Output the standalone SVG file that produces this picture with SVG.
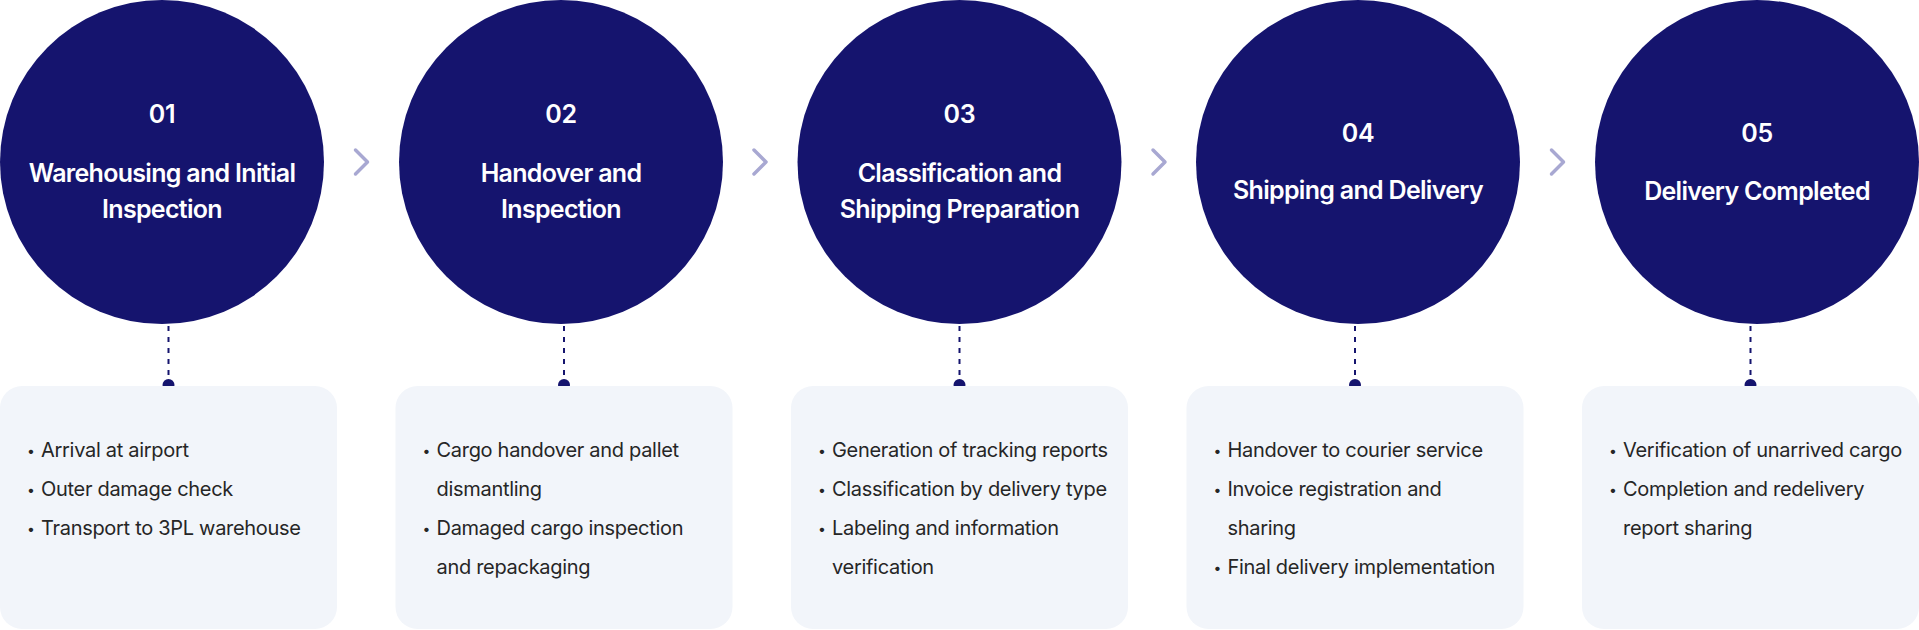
<svg xmlns="http://www.w3.org/2000/svg" width="1919" height="630" viewBox="0 0 1919 630">
<style>
.circ{fill:#15146e}
.num{font-family:Inter,"Noto Sans",sans-serif;font-weight:600;font-size:25px;fill:#ffffff;text-anchor:middle;letter-spacing:-0.3px}
.ttl{font-family:Inter,"Noto Sans",sans-serif;font-weight:600;font-size:25px;fill:#ffffff;text-anchor:middle;letter-spacing:-0.7px}
.box{fill:#f2f5fa}
.item{font-family:Inter,"Noto Sans",sans-serif;font-weight:400;font-size:20px;fill:#262626;letter-spacing:-0.3px}
.bul{font-family:Inter,"Noto Sans",sans-serif;font-size:14px;fill:#262626}
.dash{stroke:#15146e;stroke-width:2;stroke-dasharray:5 6;fill:none}
.dot{fill:#15146e}
.chev{stroke:#a8a8d2;stroke-width:3.5;fill:none;stroke-linecap:round;stroke-linejoin:round}
</style>
<rect width="1919" height="630" fill="#ffffff"/>

<g id="connectors">
<path class="chev" d="M355.5 150 L367.5 162 L355.5 174"/>
<path class="chev" d="M754 150 L766 162 L754 174"/>
<path class="chev" d="M1153 150 L1165 162 L1153 174"/>
<path class="chev" d="M1551.5 150 L1563.5 162 L1551.5 174"/>
<line class="dash" x1="168.5" y1="326" x2="168.5" y2="383"/>
<circle class="dot" cx="168.5" cy="385" r="6"/>
<line class="dash" x1="564" y1="326" x2="564" y2="383"/>
<circle class="dot" cx="564" cy="385" r="6"/>
<line class="dash" x1="959.5" y1="326" x2="959.5" y2="383"/>
<circle class="dot" cx="959.5" cy="385" r="6"/>
<line class="dash" x1="1355" y1="326" x2="1355" y2="383"/>
<circle class="dot" cx="1355" cy="385" r="6"/>
<line class="dash" x1="1750.5" y1="326" x2="1750.5" y2="383"/>
<circle class="dot" cx="1750.5" cy="385" r="6"/>
</g>

<g id="step1">
<circle class="circ" cx="162" cy="162" r="162"/>
<text class="num" x="162" y="123">01</text>
<text class="ttl" x="162" y="182">Warehousing and Initial</text>
<text class="ttl" x="162" y="218">Inspection</text>
</g>
<g id="detail1">
<rect class="box" x="0" y="386" width="337" height="243" rx="22"/>
<text class="bul" x="27" y="456">•</text><text class="item" x="41" y="457">Arrival at airport</text>
<text class="bul" x="27" y="495">•</text><text class="item" x="41" y="496">Outer damage check</text>
<text class="bul" x="27" y="534">•</text><text class="item" x="41" y="535">Transport to 3PL warehouse</text>
</g>

<g id="step2">
<circle class="circ" cx="561" cy="162" r="162"/>
<text class="num" x="561" y="123">02</text>
<text class="ttl" x="561" y="182">Handover and</text>
<text class="ttl" x="561" y="218">Inspection</text>
</g>
<g id="detail2">
<rect class="box" x="395.5" y="386" width="337" height="243" rx="22"/>
<text class="bul" x="422.5" y="456">•</text><text class="item" x="436.5" y="457">Cargo handover and pallet</text>
<text class="item" x="436.5" y="496">dismantling</text>
<text class="bul" x="422.5" y="534">•</text><text class="item" x="436.5" y="535">Damaged cargo inspection</text>
<text class="item" x="436.5" y="574">and repackaging</text>
</g>

<g id="step3">
<circle class="circ" cx="959.5" cy="162" r="162"/>
<text class="num" x="959.5" y="123">03</text>
<text class="ttl" x="959.5" y="182">Classification and</text>
<text class="ttl" x="959.5" y="218">Shipping Preparation</text>
</g>
<g id="detail3">
<rect class="box" x="791" y="386" width="337" height="243" rx="22"/>
<text class="bul" x="818" y="456">•</text><text class="item" x="832" y="457">Generation of tracking reports</text>
<text class="bul" x="818" y="495">•</text><text class="item" x="832" y="496">Classification by delivery type</text>
<text class="bul" x="818" y="534">•</text><text class="item" x="832" y="535">Labeling and information</text>
<text class="item" x="832" y="574">verification</text>
</g>

<g id="step4">
<circle class="circ" cx="1358" cy="162" r="162"/>
<text class="num" x="1358" y="142">04</text>
<text class="ttl" x="1358" y="199">Shipping and Delivery</text>
</g>
<g id="detail4">
<rect class="box" x="1186.5" y="386" width="337" height="243" rx="22"/>
<text class="bul" x="1213.5" y="456">•</text><text class="item" x="1227.5" y="457">Handover to courier service</text>
<text class="bul" x="1213.5" y="495">•</text><text class="item" x="1227.5" y="496">Invoice registration and</text>
<text class="item" x="1227.5" y="535">sharing</text>
<text class="bul" x="1213.5" y="573">•</text><text class="item" x="1227.5" y="574">Final delivery implementation</text>
</g>

<g id="step5">
<circle class="circ" cx="1757" cy="162" r="162"/>
<text class="num" x="1757" y="142">05</text>
<text class="ttl" x="1757" y="200">Delivery Completed</text>
</g>
<g id="detail5">
<rect class="box" x="1582" y="386" width="337" height="243" rx="22"/>
<text class="bul" x="1609" y="456">•</text><text class="item" x="1623" y="457">Verification of unarrived cargo</text>
<text class="bul" x="1609" y="495">•</text><text class="item" x="1623" y="496">Completion and redelivery</text>
<text class="item" x="1623" y="535">report sharing</text>
</g>
</svg>
